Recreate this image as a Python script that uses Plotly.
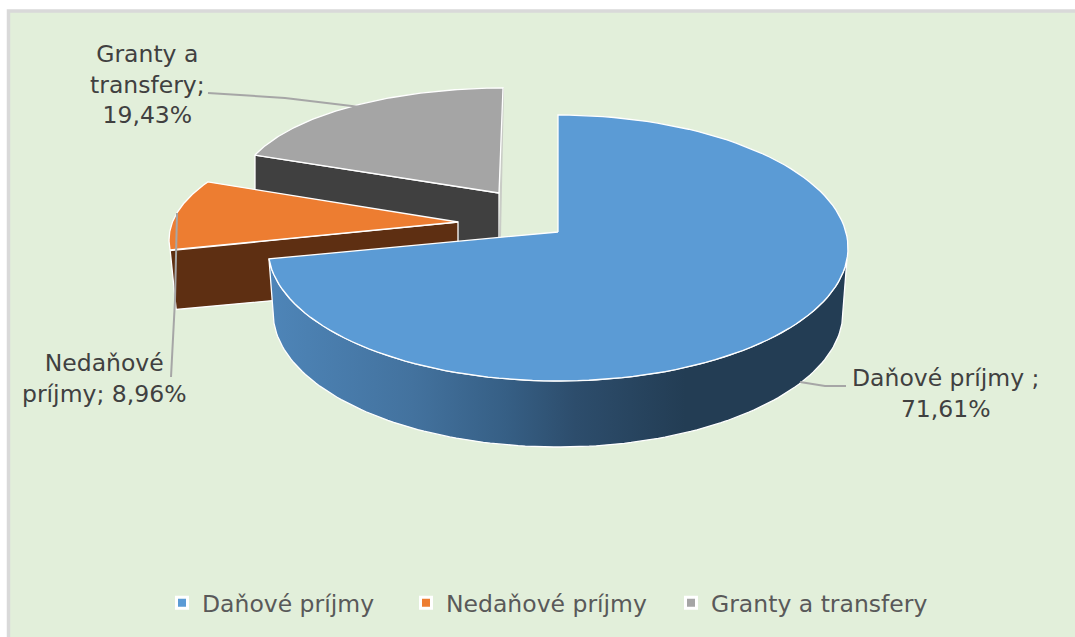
import numpy as np
import plotly.graph_objects as go

# ---- data -------------------------------------------------------------
categories = ["Daňové príjmy", "Nedaňové príjmy", "Granty a transfery"]
values = [71.61, 8.96, 19.43]
data_labels = ["Daňové príjmy ;<br>71,61%", "Nedaňové<br>príjmy; 8,96%", "Granty a<br>transfery;<br>19,43%"]

# ---- styles -----------------------------------------------------------
top_colors = ["#5B9BD5", "#ED7D31", "#A5A5A5"]
side_colors = ["#2F5A80", "#5E2F12", "#404040"]
BG = "#E2EFDA"
W, H = 1075, 637

# exploded 3-D slices: apex, ellipse centre, radii, projected-angle offsets, bottom ellipse
geom = [
    dict(apex=(558, 232), c=(558, 248), r=(290, 133), off=(0, 7.5), bc=(558, 312), br=(285, 135)),
    dict(apex=(458, 222), c=(458, 240), r=(289, 116), off=(7, 10), bc=(465, 299), br=(290, 116)),
    dict(apex=(499, 193), c=(503, 190), r=(264, 102), off=(0, 0), bc=(503, 232), br=(264, 102)),
]

cum = np.cumsum([0] + values) * 3.6
spans = [(cum[i], cum[i + 1]) for i in range(len(values))]


def arc(c, r, a0, a1, n=120):
    t = np.radians(np.linspace(a0, a1, n))
    return c[0] + r[0] * np.sin(t), c[1] - r[1] * np.cos(t)


def closed(xs, ys):
    return list(xs) + [xs[0]], list(ys) + [ys[0]]


fig = go.Figure()


def add_poly(xs, ys, color, name, line="white", lw=1.3, **kw):
    x, y = closed(xs, ys)
    fig.add_trace(go.Scatter(x=x, y=y, mode="lines", fill="toself", fillcolor=color,
                             line=dict(color=line, width=lw), showlegend=False,
                             hoverinfo="name", name=name, **kw))


# draw far slices first: gray, orange, blue
for i in [2, 1, 0]:
    g = geom[i]
    a0 = spans[i][0] + g["off"][0]
    a1 = spans[i][1] + g["off"][1]
    tx, ty = arc(g["c"], g["r"], a0, a1)
    ax, ay = g["apex"]
    if i == 0:
        sx_top, sy_top = arc(g["c"], g["r"], 95, a1)
        sx_bot, sy_bot = arc(g["bc"], g["br"], 95, a1)
        sx = np.r_[sx_bot, sx_top[::-1]]
        sy = np.r_[sy_bot, sy_top[::-1]]
        x, y = closed(sx, sy)
        fig.add_trace(go.Scatter(
            x=x, y=y, mode="lines", fill="toself",
            fillgradient=dict(type="horizontal", colorscale=[
                [0.0, "#4E85B8"], [0.25, "#43729E"], [0.41, "#365F85"], [0.53, "#2D4D6C"],
                [0.72, "#233D54"], [1.0, "#233D54"]]),
            line=dict(color="white", width=1.3), showlegend=False,
            hoverinfo="name", name=categories[i]))
    elif i == 1:
        bx, by = arc(g["bc"], g["br"], a0, a0 + 5, n=8)
        sx = np.r_[tx[0], ax, ax + 0, bx[0] + 280, bx[0]]
        sy = np.r_[ty[0], ay, ay + 60, by[0] - 26, by[0]]
        add_poly(sx, sy, side_colors[i], categories[i])
    else:
        bx, by = tx[0], ty[0] + 35
        sx = np.r_[tx[0], ax, ax, bx]
        sy = np.r_[ty[0], ay, ay + 70, by]
        add_poly(sx, sy, side_colors[i], categories[i])
        # thin sliver of the slice's far cut face
        fig.add_trace(go.Scatter(x=[tx[-1], ax + 1], y=[ty[-1], ay + 44], mode="lines",
                                 line=dict(color="#C9CCC6", width=2), showlegend=False, hoverinfo="skip"))
    add_poly(np.r_[ax, tx], np.r_[ay, ty], top_colors[i], categories[i])

# leader lines
leaders = [([800, 825, 846], [382, 386, 386]), ([177, 175, 171], [213, 300, 377]), ([208, 285, 360], [93, 98, 107])]
for lx, ly in leaders:
    fig.add_trace(go.Scatter(x=lx, y=ly, mode="lines", line=dict(color="#A6A6A6", width=2),
                             showlegend=False, hoverinfo="skip"))

# legend entries (one positioned legend per entry)
legend_ids = ["legend", "legend2", "legend3"]
legend_left = [162, 406, 671]
for name, col, lid in zip(categories, top_colors, legend_ids):
    fig.add_trace(go.Scatter(x=[None], y=[None], mode="markers", name=name, legend=lid,
                             marker=dict(symbol="square", size=11, color=col,
                                         line=dict(color="white", width=3))))

label_pos = [(945, 393), (104, 378), (147, 84)]
annots = [dict(x=p[0], y=p[1], text=t, showarrow=False, xanchor="center", yanchor="middle",
               font=dict(family="DejaVu Sans", size=23.5, color="#404040"), align="center")
          for p, t in zip(label_pos, data_labels)]

legend_layout = {
    lid: dict(orientation="h", x=left / W, xanchor="left", y=1 - 603 / H, yanchor="middle",
              bgcolor="rgba(0,0,0,0)", font=dict(family="DejaVu Sans", size=23.5, color="#595959"),
              itemwidth=30)
    for lid, left in zip(legend_ids, legend_left)
}

fig.update_layout(
    width=W, height=H, margin=dict(l=0, r=0, t=0, b=0), paper_bgcolor="white", plot_bgcolor="white",
    xaxis=dict(range=[0, W], visible=False, fixedrange=True, domain=[0, 1]),
    yaxis=dict(range=[H, 0], visible=False, fixedrange=True, domain=[0, 1]),
    annotations=annots,
    shapes=[dict(type="rect", xref="x", yref="y", x0=8.5, y0=11, x1=W + 10, y1=H + 10, layer="below",
                 fillcolor=BG, line=dict(color="#D9D9D9", width=3.5))],
    font=dict(family="DejaVu Sans"),
    **legend_layout,
)
fig.write_html("out.html", post_script="document.body.style.margin='0';", config=dict(displayModeBar=False))
